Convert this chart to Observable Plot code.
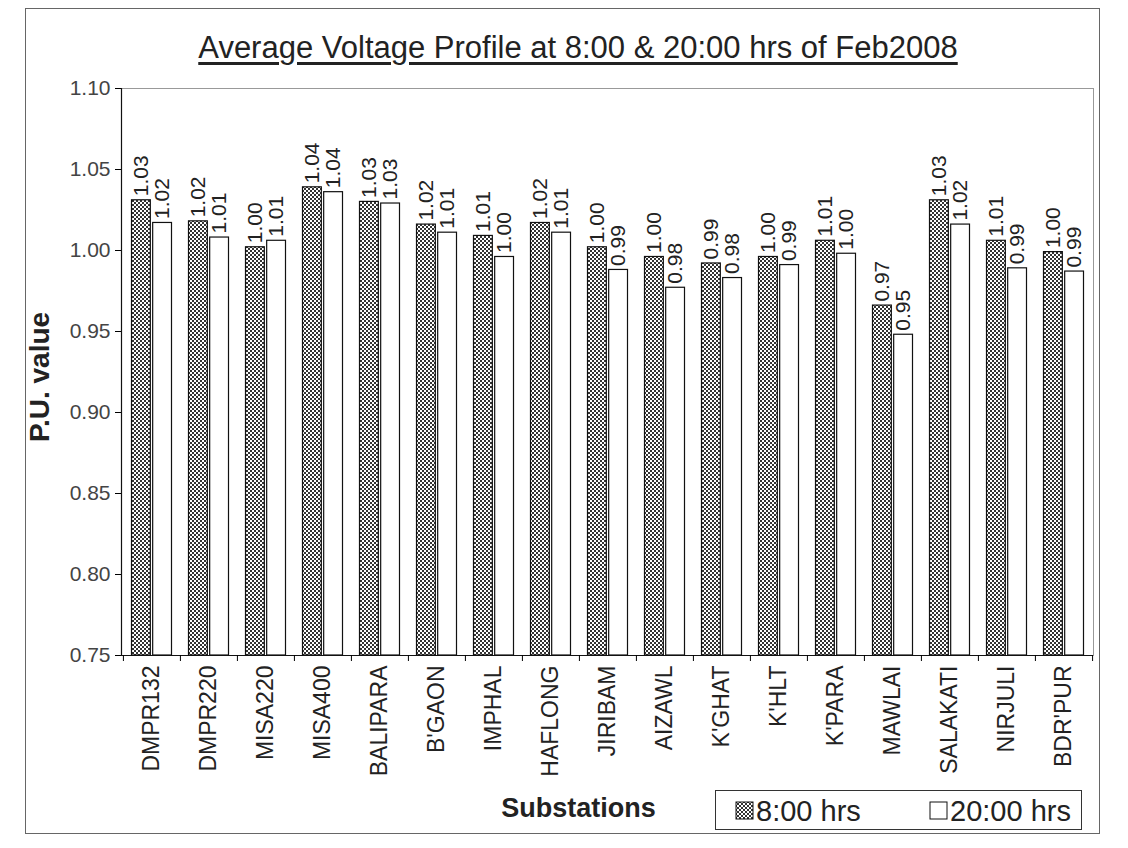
<!DOCTYPE html>
<html>
<head>
<meta charset="utf-8">
<script src="https://cdn.jsdelivr.net/npm/d3@7"></script>
<script src="https://cdn.jsdelivr.net/npm/@observablehq/plot@0.6"></script>
<style>
  body { margin: 0; background: #fff; font-family: "Liberation Sans", Arial, sans-serif; }
  #wrap { position: relative; width: 1128px; height: 848px; overflow: hidden; }
  #border { position: absolute; left: 25px; top: 8px; width: 1075px; height: 826px; border: 1px solid #666; box-sizing: border-box; }
  #title { position: absolute; left: 0; width: 1156px; top: 30px; text-align: center; font-size: 31px; color: #222; text-decoration: underline; text-underline-offset: 4px; }
  #chart { position: absolute; left: 0; top: 0; }
  #legend { position: absolute; left: 715px; top: 790px; width: 367px; height: 40px; border: 1px solid #333; box-sizing: border-box; font-size: 29px; color: #222; }
  #legend .sw { position: absolute; top: 10px; }
  #legend .lab { position: absolute; top: 3px; line-height: 34px; }
</style>
</head>
<body>
<div id="wrap">
  <div id="border"></div>
  <div id="title">Average Voltage Profile at 8:00 &amp; 20:00 hrs of Feb2008</div>
  <div id="chart"></div>
  <div id="legend"></div>
</div>
<script>
const stations = ["DMPR132","DMPR220","MISA220","MISA400","BALIPARA","B'GAON","IMPHAL","HAFLONG","JIRIBAM","AIZAWL","K'GHAT","K'HLT","K'PARA","MAWLAI","SALAKATI","NIRJULI","BDR'PUR"];
const seriesNames = ["8:00 hrs", "20:00 hrs"];
const values800 = [1.031,1.018,1.002,1.039,1.030,1.016,1.009,1.017,1.002,0.996,0.992,0.996,1.006,0.966,1.031,1.006,0.999];
const values2000 = [1.017,1.008,1.006,1.036,1.029,1.011,0.996,1.011,0.988,0.977,0.983,0.991,0.998,0.948,1.016,0.989,0.987];
const yTicks = [0.75,0.80,0.85,0.90,0.95,1.00,1.05,1.10];

const d800 = stations.map((s,i) => ({station: s, series: seriesNames[0], v: values800[i]}));
const d2000 = stations.map((s,i) => ({station: s, series: seriesNames[1], v: values2000[i]}));

const W = 1128, H = 848, mL = 121, mR = 35, mT = 88, mB = 193;
const bw = (W - mL - mR) / stations.length;
const barW = 19, side = 8.5;
const fmt = d3.format(".2f");

const chart = Plot.plot({
  width: W, height: H,
  marginLeft: mL, marginRight: mR, marginTop: mT, marginBottom: mB,
  style: {fontFamily: '"Liberation Sans", Arial, sans-serif', background: "transparent"},
  x: {domain: stations, padding: 0, label: null},
  y: {domain: [0.75, 1.10], clamp: true, label: null},
  marks: [
    Plot.frame({stroke: "#999", strokeWidth: 1}),
    Plot.barY(d800, {x: "station", y: "v", fill: "url(#checker)", stroke: "#111", strokeWidth: 1.2, insetLeft: side, insetRight: bw - side - barW}),
    Plot.barY(d2000, {x: "station", y: "v", fill: "white", stroke: "#111", strokeWidth: 1.2, insetLeft: bw - side - barW, insetRight: side}),
    Plot.text(d800, {x: "station", y: "v", text: d => fmt(d.v), rotate: -90, textAnchor: "start", lineAnchor: "middle", dx: -(bw/2 - side - barW/2), dy: -4, fontSize: 21, fill: "#222"}),
    Plot.text(d2000, {x: "station", y: "v", text: d => fmt(d.v), rotate: -90, textAnchor: "start", lineAnchor: "middle", dx: (bw/2 - side - barW/2), dy: -4, fontSize: 21, fill: "#222"}),
    Plot.ruleY([yTicks[0]], {stroke: "#111", strokeWidth: 1.2}),
    Plot.frame({anchor: "left", stroke: "#111", strokeWidth: 1.2}),
    Plot.axisY({ticks: yTicks, tickFormat: fmt, tickSize: 6, tickPadding: 5, fontSize: 21, fill: "#444", label: null}),
    Plot.axisX({tickSize: 0, tickPadding: 10, tickRotate: -90, fontSize: 23, fill: "#222", label: null}),
    Plot.axisX({tickSize: 6, tickFormat: () => "", dx: -bw/2, label: null}),
    Plot.axisX({ticks: [stations[stations.length-1]], tickSize: 6, tickFormat: () => "", dx: bw/2, label: null}),
    Plot.text(["P.U. value"], {frameAnchor: "left", rotate: -90, textAnchor: "middle", lineAnchor: "middle", dx: -81, dy: 5, fontSize: 28, fontWeight: "bold", fill: "#222"}),
    Plot.text(["Substations"], {frameAnchor: "bottom", dx: -29, dy: 161, fontSize: 27, fontWeight: "bold", fill: "#222"})
  ]
});

d3.select(chart).insert("defs", ":first-child").html(
  '<pattern id="checker" width="4" height="4" patternUnits="userSpaceOnUse">' +
  '<rect width="4" height="4" fill="#fff"/>' +
  '<rect width="2" height="2" fill="#333"/>' +
  '<rect x="2" y="2" width="2" height="2" fill="#333"/></pattern>');
document.getElementById("chart").appendChild(chart);

const legend = d3.select("#legend");
const fills = ["url(#checker)", "white"];
const swLeft = [19, 213];
seriesNames.forEach((name, i) => {
  legend.append("svg").attr("class", "sw").style("left", swLeft[i] + "px").attr("width", 19).attr("height", 19)
    .append("rect").attr("x", 1).attr("y", 1).attr("width", 17).attr("height", 17)
    .attr("fill", fills[i]).attr("stroke", "#111").attr("stroke-width", 1);
  legend.append("div").attr("class", "lab").style("left", (swLeft[i] + 21) + "px").text(name);
});
</script>
</body>
</html>
